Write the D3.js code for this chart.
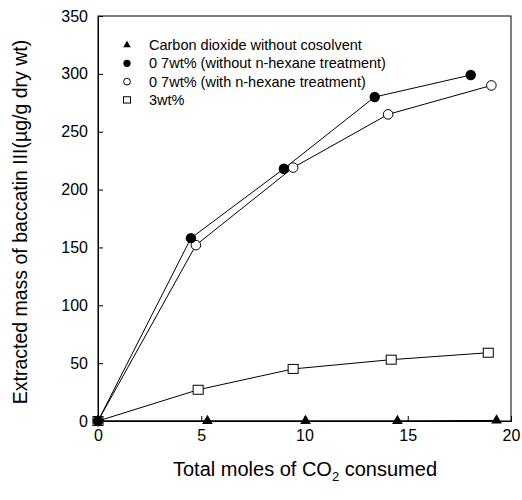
<!DOCTYPE html>
<html><head><meta charset="utf-8">
<script src="https://cdn.jsdelivr.net/npm/d3@7"></script>
<style>body{margin:0;background:#fff}svg{font-family:Arial,"Liberation Sans",sans-serif}</style>
</head><body><svg id="c" width="522" height="500"></svg>
<script>
const xTicks=[0,5,10,15,20];
const yTicks=[0,50,100,150,200,250,300,350];
const seriesNames=["Carbon dioxide without cosolvent","0 7wt% (without n-hexane treatment)","0 7wt% (with n-hexane treatment)","3wt%"];
const triX=[0,5.3,10.05,14.5,19.3], triY=[0,0,0,0,0.5];
const fcX=[0,4.5,9.0,13.4,18.05], fcY=[0,158,218,280,299];
const ocX=[0,4.74,9.45,14.05,19.05], ocY=[0,152,219,265,290];
const sqX=[0,4.85,9.45,14.2,18.9], sqY=[0,27,45,53,59];

const svg=d3.select("#c");
const L=98,R=511,T=16,B=421;
const x=d3.scaleLinear().domain([0,20]).range([L,R]);
const y=d3.scaleLinear().domain([0,350]).range([B,T]);

svg.append("rect").attr("x",L).attr("y",T).attr("width",R-L).attr("height",B-T).attr("fill","none").attr("stroke","#000").attr("stroke-width",1);

const xa=svg.append("g").attr("transform",`translate(0,${B})`).call(d3.axisBottom(x).tickValues(xTicks).tickSize(-5).tickPadding(9).tickFormat(d3.format("d")));
const ya=svg.append("g").attr("transform",`translate(${L},0)`).call(d3.axisLeft(y).tickValues(yTicks).tickSize(-5).tickPadding(10).tickFormat(d3.format("d")));
[xa,ya].forEach(a=>{a.select(".domain").attr("stroke","#000");a.selectAll("text").attr("font-size",16).attr("fill","#000").attr("font-family","Arial,'Liberation Sans',sans-serif");a.selectAll("line").attr("stroke","#000");});

const line=d3.line().x(d=>x(d[0])).y(d=>y(d[1]));
const zip=(a,b)=>a.map((v,i)=>[v,b[i]]);
const series=[
 {pts:zip(triX,triY),sym:"tri"},
 {pts:zip(fcX,fcY),sym:"fc"},
 {pts:zip(ocX,ocY),sym:"oc"},
 {pts:zip(sqX,sqY),sym:"sq"}];
function drawSym(g,sym,cx,cy,k){
 k=k||1;
 if(sym==="fc") g.append("circle").attr("cx",cx).attr("cy",cy).attr("r",5.2*k).attr("fill","#000");
 else if(sym==="oc") g.append("circle").attr("cx",cx).attr("cy",cy).attr("r",4.8*k).attr("fill","#fff").attr("stroke","#000").attr("stroke-width",1);
 else if(sym==="sq") g.append("rect").attr("x",cx-5*k).attr("y",cy-4.5*k).attr("width",10*k).attr("height",9*k).attr("fill","#fff").attr("stroke","#000").attr("stroke-width",1);
 else g.append("path").attr("d",d3.symbol(d3.symbolTriangle,50*k*k)()).attr("transform",`translate(${cx},${cy})`).attr("fill","#000");
}
series.forEach(s=>{
 svg.append("path").attr("d",line(s.pts)).attr("fill","none").attr("stroke","#000").attr("stroke-width",1);
});
[0,2,3,1].forEach(i=>{
 const s=series[i];
 const g=svg.append("g");
 s.pts.forEach(p=>drawSym(g,s.sym,x(p[0]),y(p[1])));
});

const lg=svg.append("g");
seriesNames.forEach((n,i)=>{
 const cy=45+i*18.3;
 drawSym(lg,series[i].sym,127,cy,0.7);
 lg.append("text").attr("x",149).attr("y",cy+5).attr("font-size",14.5).text(n);
});

svg.append("text").attr("x",305).attr("y",476).attr("text-anchor","middle").attr("font-size",20)
 .html('Total moles of CO<tspan font-size="13" dy="5">2</tspan><tspan dy="-5"> consumed</tspan>');
svg.append("text").attr("transform","translate(27,222) rotate(-90)").attr("text-anchor","middle").attr("font-size",19.5)
 .text("Extracted mass of baccatin III(µg/g dry wt)");
</script></body></html>
